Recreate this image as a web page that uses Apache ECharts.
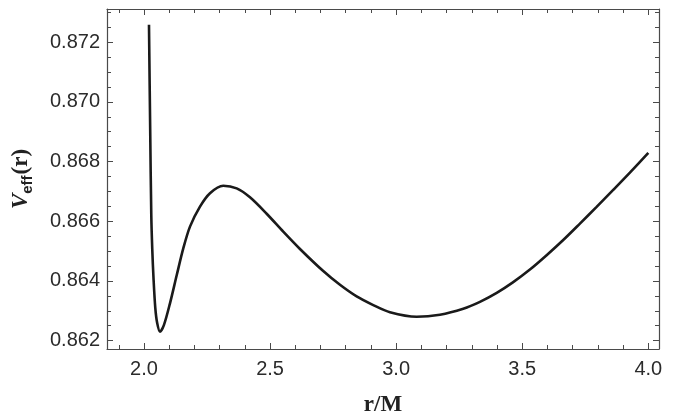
<!DOCTYPE html>
<html>
<head>
<meta charset="utf-8">
<script src="https://cdn.jsdelivr.net/npm/echarts@6/dist/echarts.min.js"></script>
<style>html,body{margin:0;padding:0;background:#fff}#c{width:691px;height:419px}</style>
</head>
<body>
<div id="c"></div>
<script>
// data
const rValues = [2.0198, 2.0246, 2.0289, 2.0329, 2.0377, 2.0448, 2.0523, 2.0634, 2.0793, 2.1031,
  2.1297, 2.1558, 2.1824, 2.2220, 2.2617, 2.3144, 2.3676, 2.4203, 2.4865, 2.5523,
  2.6186, 2.7109, 2.7772, 2.8434, 2.9092, 2.9754, 3.0813, 3.1737, 3.2660, 3.3323,
  3.3989, 3.4643, 3.5305, 3.5967, 3.6626, 3.7288, 3.7950, 3.8608, 3.9270, 4.0000];
const vEff = [0.87258, 0.86906, 0.86621, 0.86504, 0.86410, 0.86310, 0.86259, 0.86230, 0.86253, 0.86325,
  0.86419, 0.86509, 0.86582, 0.86649, 0.86694, 0.86719, 0.86710, 0.86680, 0.86625, 0.86565,
  0.86507, 0.86433, 0.86387, 0.86348, 0.86319, 0.86295, 0.86280, 0.86287, 0.86307, 0.86330,
  0.86360, 0.86396, 0.86438, 0.86486, 0.86537, 0.86592, 0.86648, 0.86705, 0.86763, 0.86829];
const xMajorTicks = [2.0, 2.5, 3.0, 3.5, 4.0];
const xMinorTicks = [1.9, 2.1, 2.2, 2.3, 2.4, 2.6, 2.7, 2.8, 2.9, 3.1, 3.2, 3.3, 3.4, 3.6, 3.7, 3.8, 3.9];
const yMajorTicks = [0.862, 0.864, 0.866, 0.868, 0.870, 0.872];
const yMinorTicks = [0.8620, 0.8625, 0.8630, 0.8635, 0.8645, 0.8650, 0.8655, 0.8665, 0.8670, 0.8675,
  0.8685, 0.8690, 0.8695, 0.8705, 0.8710, 0.8715, 0.8725, 0.8730];

const X_MIN = 1.8533, X_MAX = 4.0424, Y_MIN = 0.86172, Y_MAX = 0.87311;
const frameColor = '#4a4a4a';
const labelColor = '#2b2b2b';

function xAxisDef(pos, ticks, len, labels, line) {
  return {
    type: 'value', position: pos, min: X_MIN, max: X_MAX,
    axisLine: { show: line, lineStyle: { color: frameColor, width: 1.2 } },
    axisTick: { show: true, inside: true, length: len, customValues: ticks, lineStyle: { color: frameColor, width: 1 } },
    axisLabel: labels ? { show: true, customValues: ticks, formatter: v => v.toFixed(1), fontSize: 20,
      fontFamily: 'Liberation Sans', color: labelColor, margin: 10 } : { show: false },
    splitLine: { show: false }
  };
}
function yAxisDef(pos, ticks, len, labels, line) {
  return {
    type: 'value', position: pos, min: Y_MIN, max: Y_MAX,
    axisLine: { show: line, lineStyle: { color: frameColor, width: 1.2 } },
    axisTick: { show: true, inside: true, length: len, customValues: ticks, lineStyle: { color: frameColor, width: 1 } },
    axisLabel: labels ? { show: true, customValues: ticks, formatter: v => v.toFixed(3), fontSize: 20,
      fontFamily: 'Liberation Sans', color: labelColor, margin: 7 } : { show: false },
    splitLine: { show: false }
  };
}

const xMain = xAxisDef('bottom', xMajorTicks, 6, true, true);
xMain.name = 'r/M';
xMain.nameLocation = 'middle';
xMain.nameGap = 45;
xMain.nameTextStyle = { fontFamily: 'Liberation Serif', fontWeight: 'bold', fontSize: 23, color: '#222' };

const yMain = yAxisDef('left', yMajorTicks, 6, true, true);
yMain.name = '{v|V}{s|eff}{p|(r)}';
yMain.nameLocation = 'middle';
yMain.nameGap = 74;
yMain.nameRotate = 90;
yMain.nameTextStyle = {
  color: '#222',
  rich: {
    v: { fontFamily: 'Liberation Serif', fontStyle: 'italic', fontWeight: 'bold', fontSize: 23, color: '#222', verticalAlign: 'bottom' },
    s: { fontFamily: 'Liberation Sans', fontWeight: 'bold', fontSize: 15, color: '#222', verticalAlign: 'bottom', padding: [0, 1, -2, 0] },
    p: { fontFamily: 'Liberation Serif', fontWeight: 'bold', fontSize: 23, color: '#222', verticalAlign: 'bottom' }
  }
};

const option = {
  backgroundColor: '#fff',
  animation: false,
  grid: { left: 107, top: 9, right: 32, bottom: 70, containLabel: false, outerBoundsMode: 'none' },
  xAxis: [
    xMain,
    xAxisDef('bottom', xMinorTicks, 4, false, false),
    xAxisDef('top', xMajorTicks, 6, false, true),
    xAxisDef('top', xMinorTicks, 4, false, false)
  ],
  yAxis: [
    yMain,
    yAxisDef('left', yMinorTicks, 4, false, false),
    yAxisDef('right', yMajorTicks, 6, false, true),
    yAxisDef('right', yMinorTicks, 4, false, false)
  ],
  series: [{
    type: 'line',
    xAxisIndex: 0, yAxisIndex: 0,
    data: rValues.map((r, i) => [r, vEff[i]]),
    showSymbol: false,
    smooth: 0.3,
    lineStyle: { color: '#1a1a1a', width: 2.6 },
    clip: true
  }]
};
const chart = echarts.init(document.getElementById('c'), null, { renderer: 'canvas' });
chart.setOption(option);
</script>
</body>
</html>
